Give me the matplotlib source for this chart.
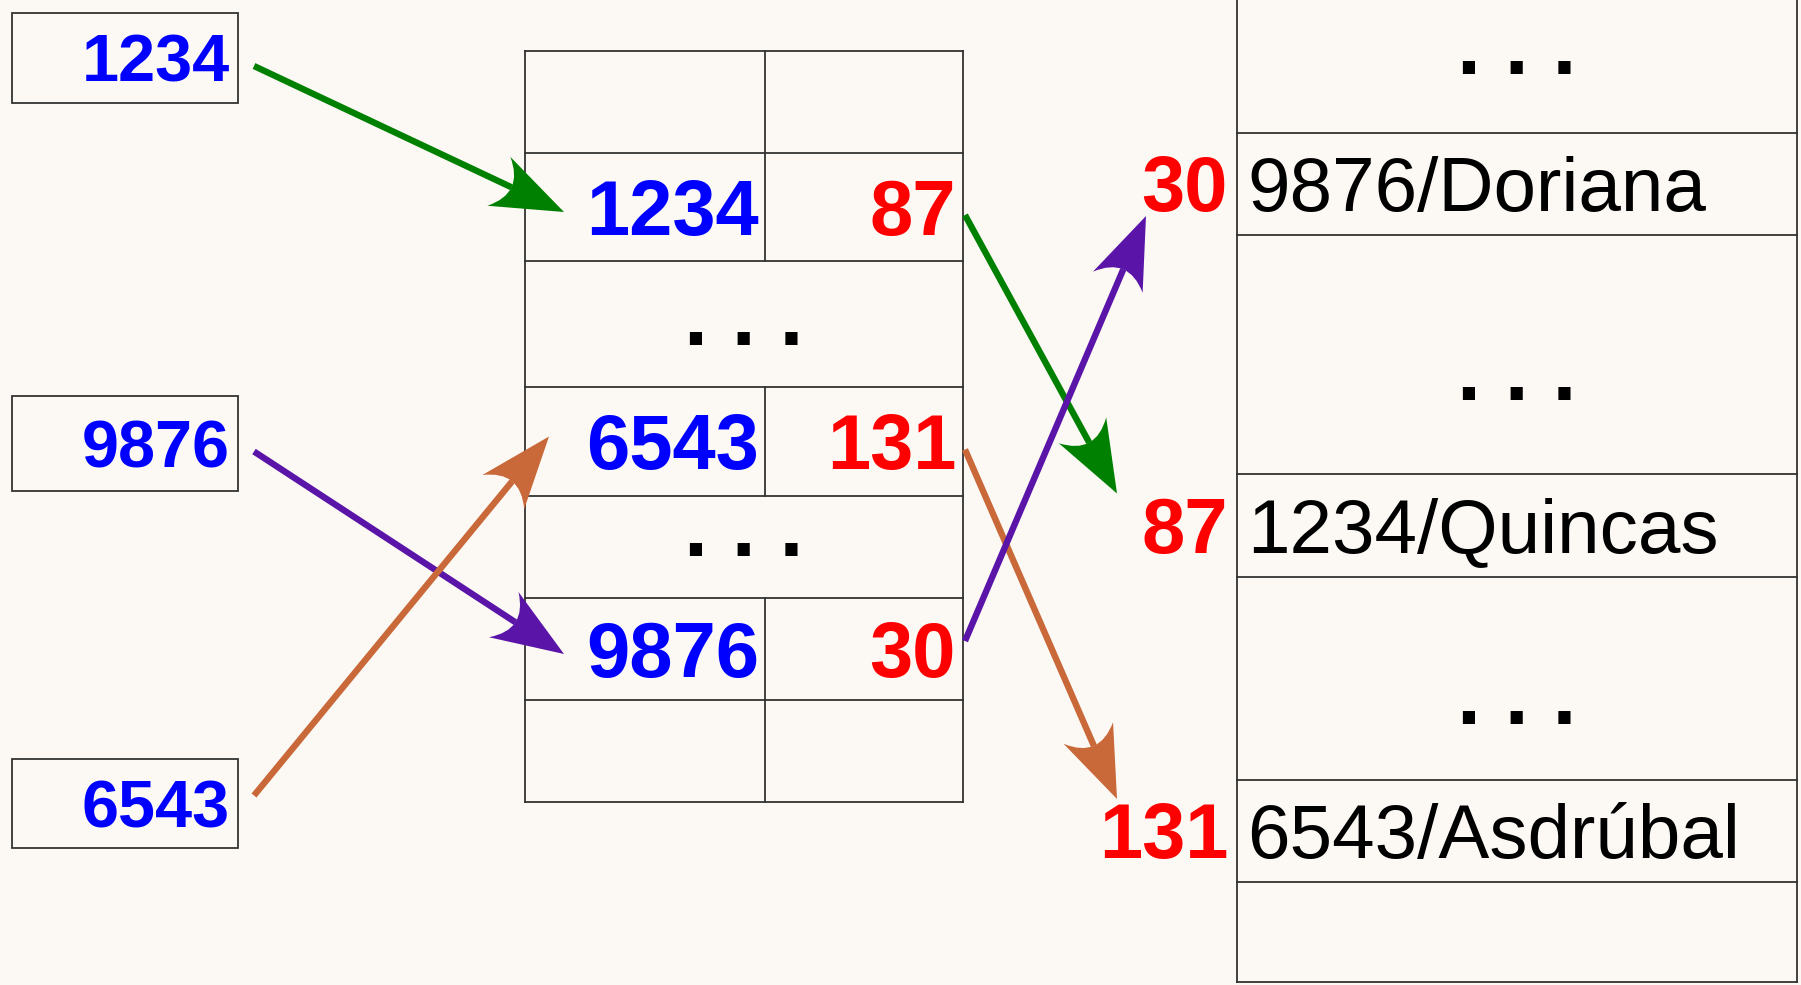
import matplotlib
matplotlib.use("Agg")
import matplotlib.pyplot as plt
import numpy as np
from matplotlib.path import Path
from matplotlib.patches import PathPatch, Rectangle

# --- data -------------------------------------------------------------
search_keys = ["1234", "9876", "6543"]
index_keys = [None, "1234", "...", "6543", "...", "9876", None]
index_ptrs = [None, "87", None, "131", None, "30", None]
file_ptrs = [None, "30", None, "87", None, "131", None]
file_records = ["...", "9876/Doriana", "...", "1234/Quincas", "...", "6543/Asdrúbal", None]
key_colors = {"1234": "#008000", "9876": "#5A14A8", "6543": "#C96838"}

# --- layout (pixels, y grows downwards) -------------------------------
W, H = 1801, 985
BG = "#FCF9F5"
LINE = "#333333"
FONT = "Liberation Sans"
key_box_x = (12, 238)
key_box_y = [(13, 103), (396, 491), (759, 848)]
idx_x = (525, 765, 963)
idx_edges = [51, 153, 261, 387, 496, 598, 700, 802]
file_x = (1237, 1797)
file_edges = [-77, 133, 235, 474, 577, 780, 882, 982]


def arrow(ax, p0, p1, color, head_len=72, head_w=27, notch=14, lw=4.6):
    p0 = np.asarray(p0, float)
    p1 = np.asarray(p1, float)
    d = (p1 - p0) / np.hypot(*(p1 - p0))
    n = np.array([-d[1], d[0]])
    back = p1 - d * head_len
    c1, c2 = back + n * head_w, back - n * head_w
    ctrl = p1 - d * (head_len - 2 * notch)
    shaft_end = p1 - d * (head_len - notch)
    ax.plot([p0[0], shaft_end[0]], [p0[1], shaft_end[1]], color=color,
            lw=lw, solid_capstyle="butt", zorder=3)
    verts = [p1, c1, ctrl, c2, p1, p1]
    codes = [Path.MOVETO, Path.LINETO, Path.CURVE3, Path.CURVE3,
             Path.LINETO, Path.CLOSEPOLY]
    ax.add_patch(PathPatch(Path(verts, codes), fc=color, ec="none", zorder=4))


def centers(edges):
    return [(a + b) / 2 for a, b in zip(edges[:-1], edges[1:])]


fig = plt.figure(figsize=(W / 100, H / 100), dpi=100, facecolor=BG)
ax = fig.add_axes([0, 0, 1, 1])
ax.set_xlim(0, W)
ax.set_ylim(H, 0)
ax.axis("off")
ax.set_facecolor(BG)

lk = dict(color=LINE, lw=1.3, zorder=1)

# search keys on the left
for key, (y0, y1) in zip(search_keys, key_box_y):
    ax.add_patch(Rectangle((key_box_x[0], y0), key_box_x[1] - key_box_x[0], y1 - y0,
                           fc="none", ec=LINE, lw=1.3))
    ax.text(key_box_x[1] - 8, (y0 + y1) / 2 + 24, key, ha="right", va="baseline",
            color="blue", fontsize=48, fontweight="bold", family=FONT)

# index table
idx_c = centers(idx_edges)
ax.plot([idx_x[0], idx_x[0]], [idx_edges[0], idx_edges[-1]], **lk)
ax.plot([idx_x[2], idx_x[2]], [idx_edges[0], idx_edges[-1]], **lk)
for y in idx_edges:
    ax.plot([idx_x[0], idx_x[2]], [y, y], **lk)
for i, (key, ptr) in enumerate(zip(index_keys, index_ptrs)):
    top, bot = idx_edges[i], idx_edges[i + 1]
    if key == "...":
        ax.text((idx_x[0] + idx_x[2]) / 2, bot - 42, ". . .", ha="center",
                va="baseline", fontsize=62, fontweight="bold", family=FONT)
        continue
    ax.plot([idx_x[1], idx_x[1]], [top, bot], **lk)
    if key:
        ax.text(idx_x[1] - 6, idx_c[i] + 28, key, ha="right", va="baseline",
                color="blue", fontsize=56, fontweight="bold", family=FONT)
        ax.text(idx_x[2] - 7, idx_c[i] + 28, ptr, ha="right", va="baseline",
                color="red", fontsize=56, fontweight="bold", family=FONT)

# data file on the right
file_c = centers(file_edges)
ax.plot([file_x[0], file_x[0]], [file_edges[0], file_edges[-1]], **lk)
ax.plot([file_x[1], file_x[1]], [file_edges[0], file_edges[-1]], **lk)
for y in file_edges[1:]:
    ax.plot([file_x[0], file_x[1]], [y, y], **lk)
for i, (ptr, rec) in enumerate(zip(file_ptrs, file_records)):
    if rec == "...":
        ax.text((file_x[0] + file_x[1]) / 2, file_c[i] + 46, ". . .", ha="center",
                va="baseline", fontsize=62, fontweight="bold", family=FONT)
    elif rec:
        ax.text(file_x[0] + 10, file_c[i] + 27, rec, ha="left", va="baseline",
                color="black", fontsize=55, family=FONT)
        ax.text(file_x[0] - 9, file_c[i] + 27, ptr, ha="right", va="baseline",
                color="red", fontsize=56, fontweight="bold", family=FONT)

# arrows: search key -> index entry
for key, (y0, y1) in zip(search_keys, key_box_y):
    j = index_keys.index(key)
    yc = (y0 + y1) / 2
    s = np.sign(idx_c[j] - yc)
    dx = 39 if s > 0 else 24
    arrow(ax, (key_box_x[1] + 16, yc + 8 * s), (idx_x[0] + dx, idx_c[j] + 5 * s),
          key_colors[key])

# arrows: index pointer -> record in the file
for i, (key, ptr) in enumerate(zip(index_keys, index_ptrs)):
    if not ptr:
        continue
    j = file_ptrs.index(ptr)
    s = np.sign(file_c[j] - idx_c[i])
    dx = 120 if s > 0 else 91
    arrow(ax, (idx_x[2] + 2, idx_c[i] + 8 * s), (file_x[0] - dx, file_c[j] - 32 * s),
          key_colors[key])

fig.savefig("out.png", dpi=100, facecolor=BG)
